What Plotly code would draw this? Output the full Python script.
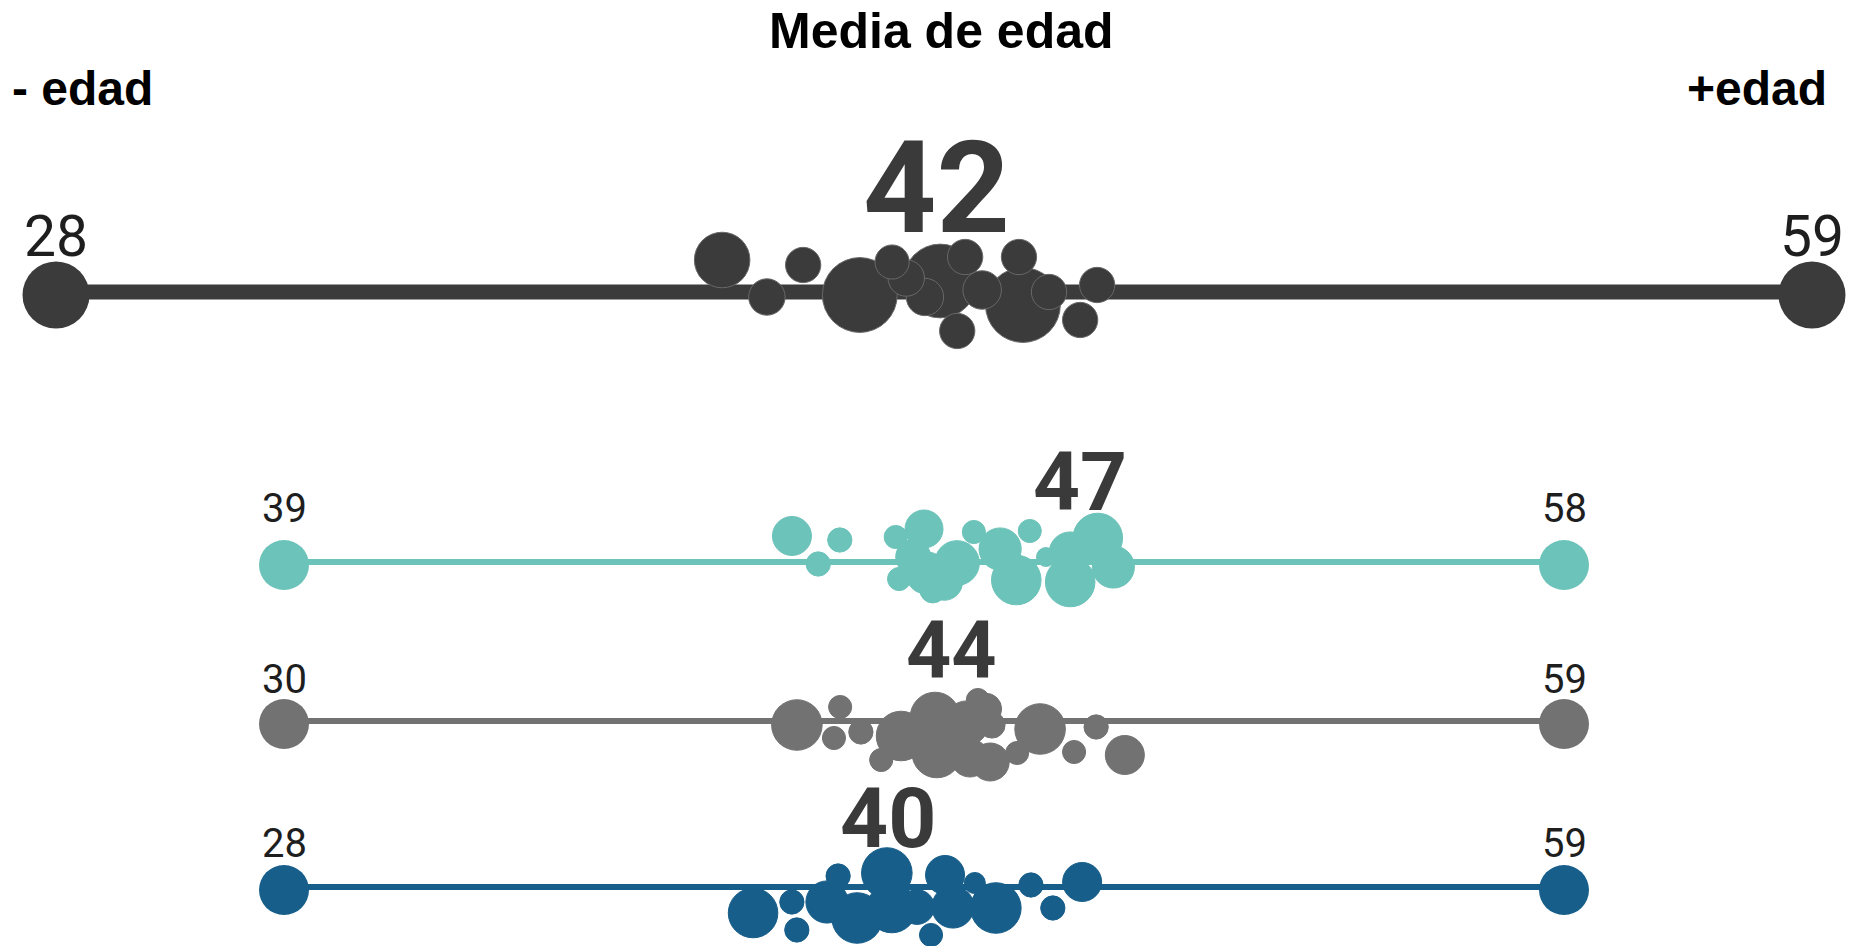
import plotly.graph_objects as go

W, H = 1859, 946

# --- datos ---------------------------------------------------------------
# fila superior: total
total_rango = [28, 59]
total_media = 42
total_edad = [39.76, 40.55, 41.19, 42.19, 42.76, 43.01, 43.61, 44.05,
              44.35, 43.91, 45.00, 45.07, 45.53, 46.08, 46.38, 43.34]
total_pob = [270, 116, 109, 490, 102, 116, 476, 109,
             130, 109, 109, 490, 109, 109, 109, 122]
total_desv = [-32, 5, -27, 3, -30, -14, -11, -35,
              -2, 39, -35, 13, 0, 28, -7, 5]

# grupo 1 (verde agua)
g1_rango = [39, 58]
g1_media = 47
g1_edad = [46.54, 46.93, 47.25, 48.08, 48.50, 48.13, 48.54, 48.99, 48.63, 48.34,
           49.24, 49.63, 49.87, 50.07, 51.08, 50.67, 51.31, 50.67, 50.31, 48.80]
g1_pob = [137, 53, 53, 48, 130, 48, 160, 180, 60, 110,
          48, 160, 221, 48, 221, 221, 160, 160, 32, 120]
g1_desv = [-26, 2, -22, -25, -33, 17, 11, 1, 28, -5,
           -30, -13, 18, -31, -24, 20, 5, -9, -5, 20]

# grupo 2 (gris)
g2_rango = [30, 59]
g2_media = 44
g2_edad = [41.62, 42.60, 42.46, 43.07, 43.53, 43.98, 44.75, 44.79, 45.47,
           45.72, 46.00, 46.04, 46.61, 47.13, 47.90, 48.40, 49.05, 45.54, 45.90]
g2_pob = [230, 48, 48, 53, 48, 221, 221, 221, 176,
          48, 130, 62, 48, 230, 48, 53, 137, 130, 90]
g2_desv = [4, -14, 17, 11, 39, 15, -4, 32, 2,
           -21, 41, 4, 32, 8, 31, 6, 34, 37, -12]

# grupo 3 (azul)
g3_rango = [28, 59]
g3_media = 40
g3_edad = [39.36, 40.42, 40.30, 41.42, 41.15, 41.88, 42.60, 42.72, 43.33,
           43.67, 44.01, 44.20, 44.73, 45.24, 46.09, 46.62, 47.33]
g3_pob = [221, 53, 53, 53, 160, 230, 230, 221, 109,
          48, 137, 160, 40, 230, 53, 53, 137]
g3_desv = [26, 43, 15, -11, 15, 31, -14, 21, 20,
           48, -12, 20, -4, 21, -2, 21, -5]

# --- estilo por fila -----------------------------------------------------
filas = [
    dict(rango=total_rango, media=total_media, edad=total_edad, pob=total_pob,
         desv=total_desv, color="#3b3b3b", borde="#686868", y=292, px=(56, 1812),
         grosor=15, punta=67, fs_ext=57, y_ext=236, fs_media=128, y_media=188,
         x_media=43.55, escala=0.175),
    dict(rango=g1_rango, media=g1_media, edad=g1_edad, pob=g1_pob,
         desv=g1_desv, color="#6cc3b9", borde="#6cc3b9", y=562, px=(284, 1564),
         grosor=6, punta=50, fs_ext=40, y_ext=508, fs_media=82, y_media=482,
         x_media=50.82, escala=0.18),
    dict(rango=g2_rango, media=g2_media, edad=g2_edad, pob=g2_pob,
         desv=g2_desv, color="#727272", borde="#727272", y=721, px=(284, 1564),
         grosor=6, punta=50, fs_ext=40, y_ext=679, fs_media=79, y_media=650,
         x_media=45.13, escala=0.18),
    dict(rango=g3_rango, media=g3_media, edad=g3_edad, pob=g3_pob,
         desv=g3_desv, color="#175e8a", borde="#175e8a", y=887, px=(284, 1564),
         grosor=6, punta=50, fs_ext=40, y_ext=843, fs_media=84, y_media=818,
         x_media=42.63, escala=0.18),
]

fig = go.Figure()
annotations = []

for i, f in enumerate(filas):
    xa = "x" if i == 0 else f"x{i + 1}"
    lo, hi = f["rango"]

    fig.add_trace(go.Scatter(
        x=[lo, hi], y=[f["y"], f["y"]], mode="lines",
        line=dict(color=f["color"], width=f["grosor"]),
        xaxis=xa, yaxis="y", hoverinfo="skip", cliponaxis=False))

    fig.add_trace(go.Scatter(
        x=[lo, hi], y=[f["y"] + 3, f["y"] + 3], mode="markers",
        marker=dict(size=f["punta"], color=f["color"], opacity=1, line=dict(width=0)),
        xaxis=xa, yaxis="y", hoverinfo="skip", cliponaxis=False))

    # grandes primero para que los pequeños queden encima
    orden = sorted(range(len(f["edad"])), key=lambda k: -f["pob"][k])
    fig.add_trace(go.Scatter(
        x=[f["edad"][k] for k in orden],
        y=[f["y"] + f["desv"][k] for k in orden],
        mode="markers",
        marker=dict(size=[f["pob"][k] for k in orden], sizemode="area",
                    sizeref=f["escala"], color=f["color"], opacity=1,
                    line=dict(width=1, color=f["borde"])),
        xaxis=xa, yaxis="y", hoverinfo="skip", cliponaxis=False))

    for v in (lo, hi):
        annotations.append(dict(
            x=v, y=f["y_ext"], xref=xa, yref="y", text=str(v), showarrow=False,
            xanchor="center", yanchor="middle",
            font=dict(family="Roboto", size=f["fs_ext"], color="#1e1e1e")))

    annotations.append(dict(
        x=f["x_media"], y=f["y_media"], xref=xa, yref="y", text=str(f["media"]),
        showarrow=False, xanchor="center", yanchor="middle",
        font=dict(family="Roboto", size=f["fs_media"], color="#3a3a3a", weight=700)))

    fig.layout[("xaxis" if i == 0 else f"xaxis{i + 1}")] = dict(
        domain=[f["px"][0] / W, f["px"][1] / W], range=[lo, hi],
        visible=False, anchor="y", fixedrange=True)

cab = dict(family="Liberation Sans, Arial", color="#000000", weight=700)
annotations += [
    dict(x=941 / W, y=31, xref="paper", yref="y", text="Media de edad", showarrow=False,
         xanchor="center", yanchor="middle", font=dict(cab, size=50)),
    dict(x=10 / W, y=88, xref="paper", yref="y", text="- edad", showarrow=False,
         xanchor="left", yanchor="middle", font=dict(cab, size=48)),
    dict(x=1829 / W, y=88, xref="paper", yref="y", text="+edad", showarrow=False,
         xanchor="right", yanchor="middle", font=dict(cab, size=48)),
]

fig.update_layout(
    width=W, height=H,
    margin=dict(l=0, r=0, t=0, b=0),
    paper_bgcolor="white", plot_bgcolor="rgba(0,0,0,0)",
    showlegend=False,
    yaxis=dict(domain=[0, 1], range=[H, 0], visible=False, fixedrange=True),
    annotations=annotations,
)

fig.write_html("out.html", config={"displayModeBar": False},
               post_script="document.body.style.margin='0px';")
